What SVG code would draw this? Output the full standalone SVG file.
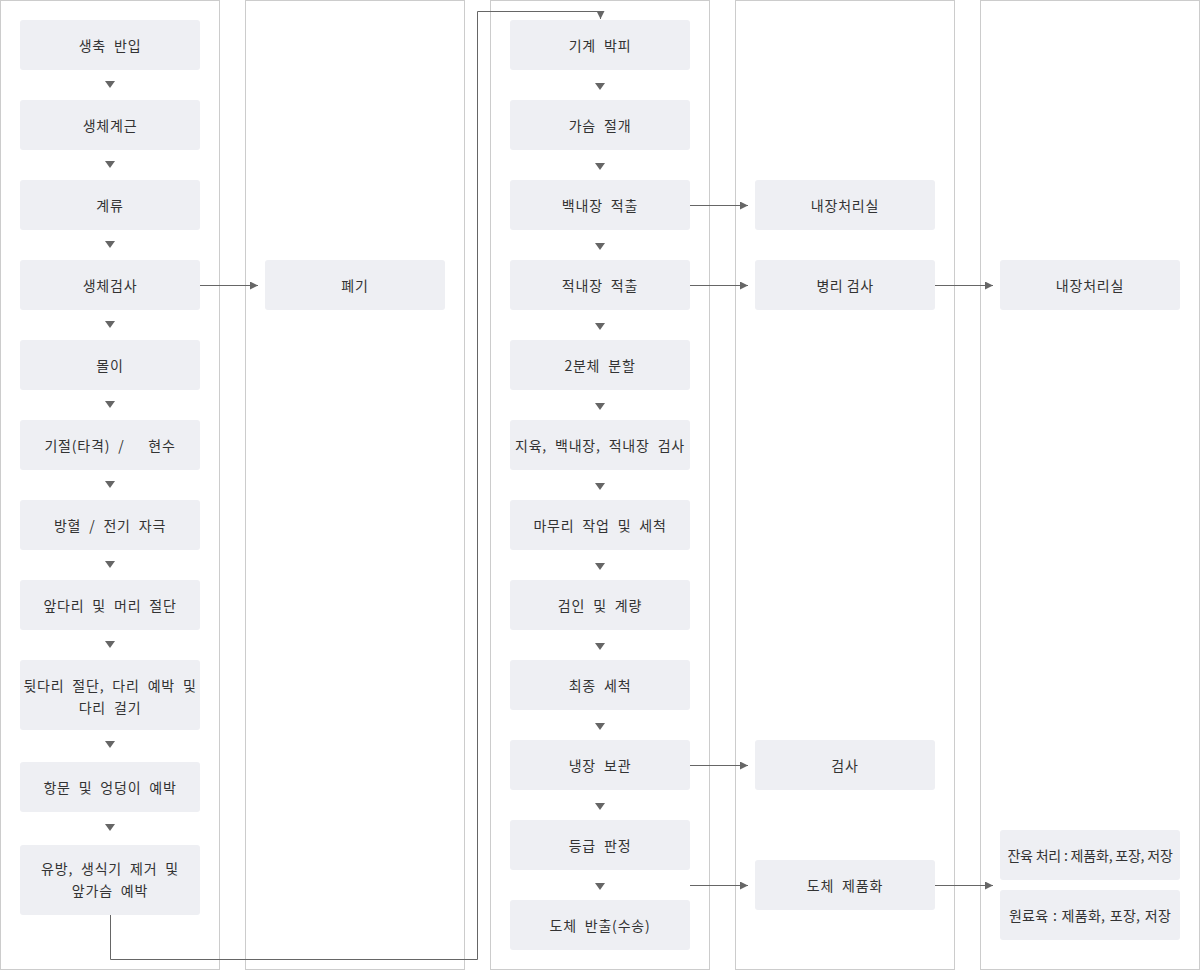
<svg xmlns="http://www.w3.org/2000/svg" width="1200" height="970" viewBox="0 0 1200 970">
<defs>
<style>
.col{fill:#fff;stroke:#cccccc;stroke-width:1}
.box{fill:#eeeff3}
.t{font-family:"Noto Sans CJK KR","Noto Sans",sans-serif;font-size:14px;fill:#333;text-anchor:middle;dominant-baseline:central;letter-spacing:0.8px;word-spacing:4px}
.t2{font-family:"Noto Sans CJK KR","Noto Sans",sans-serif;font-size:14px;fill:#333;text-anchor:middle;dominant-baseline:central}
.ln{fill:none;stroke:#666;stroke-width:1}
.tri{fill:#666}
</style>
<marker id="ah" viewBox="0 0 10 10" refX="10" refY="5" markerWidth="8" markerHeight="8" markerUnits="userSpaceOnUse" orient="auto"><path d="M0,0 L10,5 L0,10 Z" fill="#666"/></marker>
</defs>
<rect width="1200" height="970" fill="#fff"/>
<g id="columns">
<rect class="col" x="0.5" y="0.5" width="219" height="969"/>
<rect class="col" x="245.5" y="0.5" width="219" height="969"/>
<rect class="col" x="490.5" y="0.5" width="219" height="969"/>
<rect class="col" x="735.5" y="0.5" width="219" height="969"/>
<rect class="col" x="980.5" y="0.5" width="219" height="969"/>
</g>
<g id="connectors">
<g class="tri">
<path d="M105,81 L115,81 L110,88 Z"/>
<path d="M105,161 L115,161 L110,168 Z"/>
<path d="M105,241 L115,241 L110,248 Z"/>
<path d="M105,321 L115,321 L110,328 Z"/>
<path d="M105,401 L115,401 L110,408 Z"/>
<path d="M105,481 L115,481 L110,488 Z"/>
<path d="M105,561 L115,561 L110,568 Z"/>
<path d="M105,641 L115,641 L110,648 Z"/>
<path d="M105,741 L115,741 L110,748 Z"/>
<path d="M105,824 L115,824 L110,831 Z"/>
<path d="M595,83 L605,83 L600,90 Z"/>
<path d="M595,163 L605,163 L600,170 Z"/>
<path d="M595,243 L605,243 L600,250 Z"/>
<path d="M595,323 L605,323 L600,330 Z"/>
<path d="M595,403 L605,403 L600,410 Z"/>
<path d="M595,483 L605,483 L600,490 Z"/>
<path d="M595,563 L605,563 L600,570 Z"/>
<path d="M595,643 L605,643 L600,650 Z"/>
<path d="M595,723 L605,723 L600,730 Z"/>
<path d="M595,803 L605,803 L600,810 Z"/>
<path d="M595,883 L605,883 L600,890 Z"/>
</g>
<path class="ln" d="M200,285.5 H258" marker-end="url(#ah)"/>
<path class="ln" d="M690,205.5 H748" marker-end="url(#ah)"/>
<path class="ln" d="M690,285.5 H748" marker-end="url(#ah)"/>
<path class="ln" d="M690,765.5 H748" marker-end="url(#ah)"/>
<path class="ln" d="M690,885.5 H748" marker-end="url(#ah)"/>
<path class="ln" d="M935,285.5 H993" marker-end="url(#ah)"/>
<path class="ln" d="M935,885.5 H993" marker-end="url(#ah)"/>
<path class="ln" d="M110.5,915 V959.5 H477.5 V11.5 H600.5 V19" marker-end="url(#ah)"/>
</g>
<g id="n1"><rect class="box" x="20" y="20" width="180" height="50" rx="3"/><text class="t" x="110" y="45">생축 반입</text></g>
<g id="n2"><rect class="box" x="20" y="100" width="180" height="50" rx="3"/><text class="t" x="110" y="125">생체계근</text></g>
<g id="n3"><rect class="box" x="20" y="180" width="180" height="50" rx="3"/><text class="t" x="110" y="205">계류</text></g>
<g id="n4"><rect class="box" x="20" y="260" width="180" height="50" rx="3"/><text class="t" x="110" y="285">생체검사</text></g>
<g id="n5"><rect class="box" x="20" y="340" width="180" height="50" rx="3"/><text class="t" x="110" y="365">몰이</text></g>
<g id="n6"><rect class="box" x="20" y="420" width="180" height="50" rx="3"/><text class="t" x="110" y="445" xml:space="preserve">기절(타격) /   현수</text></g>
<g id="n7"><rect class="box" x="20" y="500" width="180" height="50" rx="3"/><text class="t" x="110" y="525">방혈 / 전기 자극</text></g>
<g id="n8"><rect class="box" x="20" y="580" width="180" height="50" rx="3"/><text class="t" x="110" y="605">앞다리 및 머리 절단</text></g>
<g id="n9"><rect class="box" x="20" y="660" width="180" height="70" rx="3"/><text class="t" x="110" y="685">뒷다리 절단, 다리 예박 및</text><text class="t" x="110" y="707">다리 걸기</text></g>
<g id="n10"><rect class="box" x="20" y="762" width="180" height="50" rx="3"/><text class="t" x="110" y="787">항문 및 엉덩이 예박</text></g>
<g id="n11"><rect class="box" x="20" y="845" width="180" height="70" rx="3"/><text class="t" x="110" y="868">유방, 생식기 제거 및</text><text class="t" x="110" y="890">앞가슴 예박</text></g>
<g id="n12"><rect class="box" x="265" y="260" width="180" height="50" rx="3"/><text class="t" x="355" y="285">폐기</text></g>
<g id="n13"><rect class="box" x="510" y="20" width="180" height="50" rx="3"/><text class="t" x="600" y="45">기계 박피</text></g>
<g id="n14"><rect class="box" x="510" y="100" width="180" height="50" rx="3"/><text class="t" x="600" y="125">가슴 절개</text></g>
<g id="n15"><rect class="box" x="510" y="180" width="180" height="50" rx="3"/><text class="t" x="600" y="205">백내장 적출</text></g>
<g id="n16"><rect class="box" x="510" y="260" width="180" height="50" rx="3"/><text class="t" x="600" y="285">적내장 적출</text></g>
<g id="n17"><rect class="box" x="510" y="340" width="180" height="50" rx="3"/><text class="t" x="600" y="365">2분체 분할</text></g>
<g id="n18"><rect class="box" x="510" y="420" width="180" height="50" rx="3"/><text class="t" x="600" y="445">지육, 백내장, 적내장 검사</text></g>
<g id="n19"><rect class="box" x="510" y="500" width="180" height="50" rx="3"/><text class="t" x="600" y="525">마무리 작업 및 세척</text></g>
<g id="n20"><rect class="box" x="510" y="580" width="180" height="50" rx="3"/><text class="t" x="600" y="605">검인 및 계량</text></g>
<g id="n21"><rect class="box" x="510" y="660" width="180" height="50" rx="3"/><text class="t" x="600" y="685">최종 세척</text></g>
<g id="n22"><rect class="box" x="510" y="740" width="180" height="50" rx="3"/><text class="t" x="600" y="765">냉장 보관</text></g>
<g id="n23"><rect class="box" x="510" y="820" width="180" height="50" rx="3"/><text class="t" x="600" y="845">등급 판정</text></g>
<g id="n24"><rect class="box" x="510" y="900" width="180" height="50" rx="3"/><text class="t" x="600" y="925">도체 반출(수송)</text></g>
<g id="n25"><rect class="box" x="755" y="180" width="180" height="50" rx="3"/><text class="t" x="845" y="205">내장처리실</text></g>
<g id="n26"><rect class="box" x="755" y="260" width="180" height="50" rx="3"/><text class="t2" x="845" y="285" style="letter-spacing:0.5px">병리 검사</text></g>
<g id="n27"><rect class="box" x="755" y="740" width="180" height="50" rx="3"/><text class="t" x="845" y="765">검사</text></g>
<g id="n28"><rect class="box" x="755" y="860" width="180" height="50" rx="3"/><text class="t" x="845" y="885">도체 제품화</text></g>
<g id="n29"><rect class="box" x="1000" y="260" width="180" height="50" rx="3"/><text class="t" x="1090" y="285">내장처리실</text></g>
<g id="n30"><rect class="box" x="1000" y="830" width="180" height="50" rx="3"/><text class="t2" x="1090" y="855" style="letter-spacing:-0.2px">잔육 처리 : 제품화, 포장, 저장</text></g>
<g id="n31"><rect class="box" x="1000" y="890" width="180" height="50" rx="3"/><text class="t2" x="1090" y="915" style="letter-spacing:0.3px;word-spacing:1px">원료육 : 제품화, 포장, 저장</text></g>
</svg>
